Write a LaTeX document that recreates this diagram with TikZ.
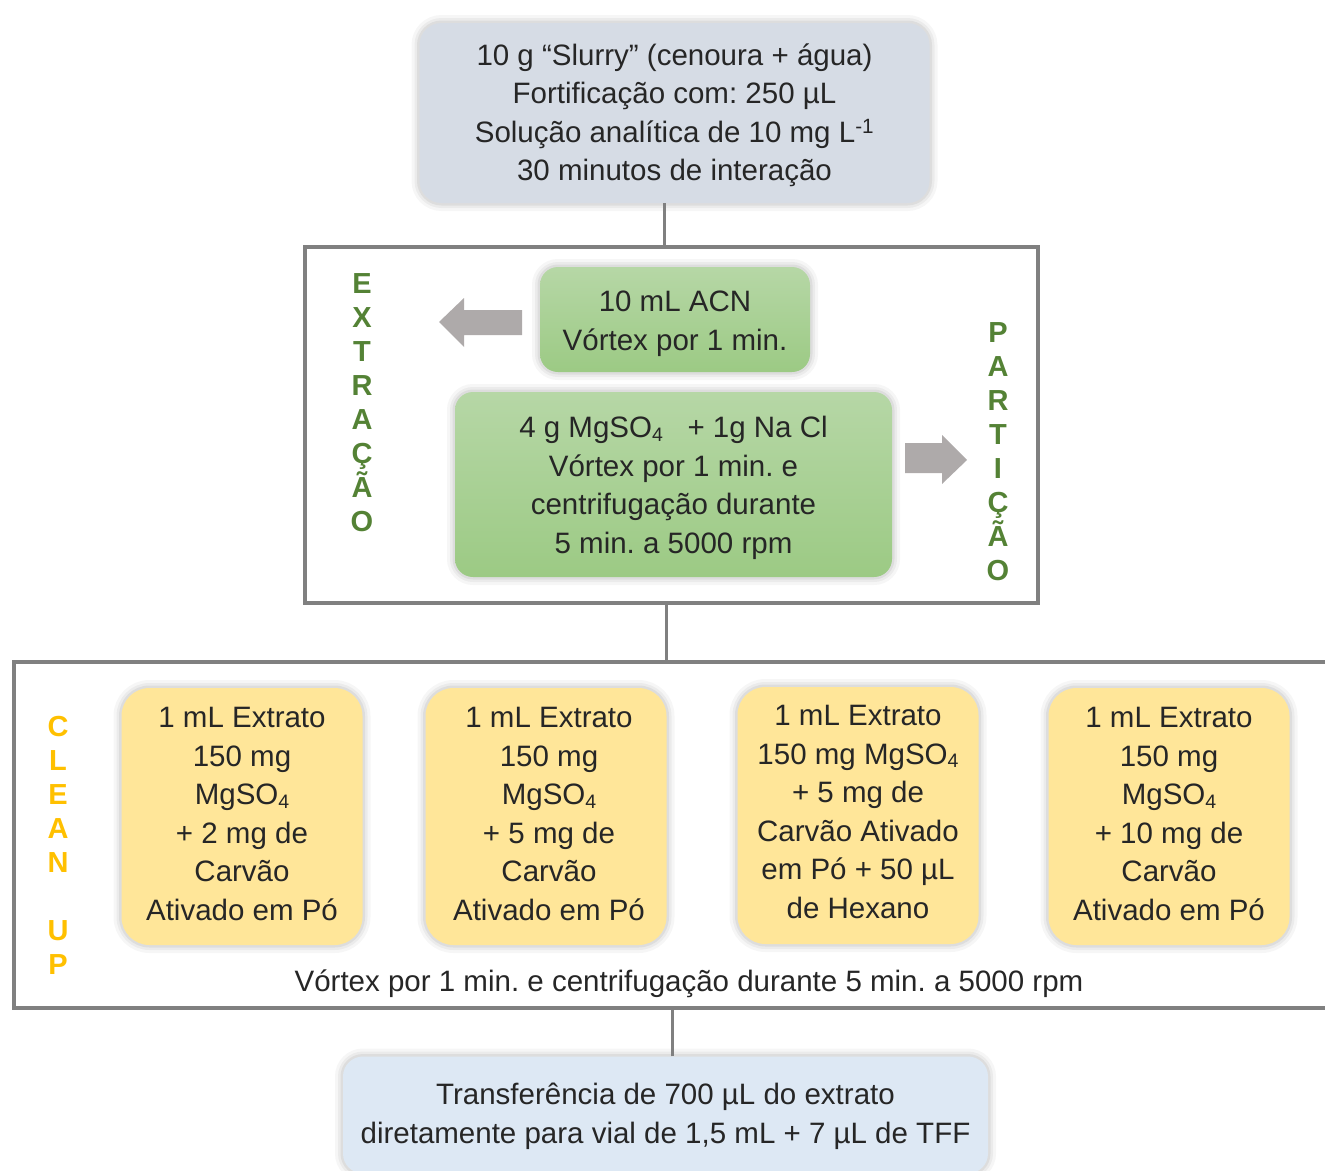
\documentclass[tikz,border=0pt]{standalone}
\usepackage{fontspec}
\setmainfont{Liberation Sans}
\frenchspacing
\definecolor{txt}{HTML}{262626}
\definecolor{framec}{HTML}{808080}
\definecolor{topfill}{HTML}{D6DCE5}
\definecolor{botfill}{HTML}{DDE8F4}
\definecolor{yel}{HTML}{FFE699}
\definecolor{gtop}{HTML}{B6D7A6}
\definecolor{gbot}{HTML}{9CCA84}
\definecolor{arr}{HTML}{AEAAAA}
\definecolor{lgreen}{HTML}{548235}
\definecolor{lorange}{HTML}{FFC000}
\newcommand{\mysubs}[1]{\raisebox{-0.12em}{\fontsize{19.5}{19.5}\selectfont #1}}
\begin{document}
\begin{tikzpicture}[x=1pt,y=-1pt,
  glow/.style={preaction={draw=black,draw opacity=0.035,line width=16pt},
               preaction={draw=black,draw opacity=0.045,line width=10pt},
               preaction={draw=black,draw opacity=0.06,line width=5pt}},
  box/.style={glow, rounded corners=22pt, inner sep=0pt},
  boxtext/.style={align=center, text=txt, font=\fontsize{29.5}{38.5}\selectfont, inner sep=0pt},
  gbox/.style={box, top color=gtop, bottom color=gbot, rounded corners=18pt},
  ybox/.style={box, fill=yel, rounded corners=28pt, minimum width=241pt, minimum height=257pt},
  framebox/.style={draw=framec, line width=4pt, inner sep=0pt},
  conn/.style={draw=framec, line width=3pt},
  letters/.style={align=center, font=\fontsize{29}{34}\selectfont\bfseries, inner sep=0pt},
  blockarrow/.style={fill=arr, draw=none}]
\useasboundingbox (0,0) rectangle (1325,1170);

% frames
\node[framebox, minimum width=733pt, minimum height=356pt] (ext) at (671.5,425) {};
\node[framebox, minimum width=1330pt, minimum height=346pt] (cl) at (679,835) {};

% top box
\node[box, fill=topfill, minimum width=510pt, minimum height=180pt] (top) at (674.5,113) {};
\node[boxtext] (toptext) at ([yshift=-2.5pt]top.center)
  {10 g “Slurry” (cenoura + água)\\Fortificação com: 250 µL\\Solução analítica de 10 mg L\textsuperscript{-1}\\30 minutos de interação};

% extraction
\node[gbox, minimum width=270pt, minimum height=105pt] (acn) at (675,319.5) {};
\node[boxtext] (acntext) at ([yshift=-4.5pt]acn.center) {10 mL ACN\\Vórtex por 1 min.};
\node[gbox, minimum width=437pt, minimum height=185pt] (mgso) at (673.5,484.5) {};
\node[boxtext] (mgsotext) at ([yshift=-3.5pt]mgso.center)
  {4 g MgSO\mysubs{4}\ \ \ + 1g Na Cl\\Vórtex por 1 min. e\\centrifugação durante\\5 min. a 5000 rpm};

\fill[blockarrow] (439,322) -- (464,298) -- (464,310) -- (522,310) -- (522,335) -- (464,335) -- (464,347) -- cycle;
\fill[blockarrow] (967,460) -- (942,435) -- (942,443) -- (905,443) -- (905,473) -- (942,473) -- (942,484) -- cycle;

\node[letters, text=lgreen] (lext) at (362,403) {E\\X\\T\\R\\A\\Ç\\Ã\\O};
\node[letters, text=lgreen] (lpart) at (998,451.5) {P\\A\\R\\T\\I\\Ç\\Ã\\O};

% clean up
\node[letters, text=lorange] (lclean) at (58,845) {C\\L\\E\\A\\N\\ \\U\\P};

\node[ybox] (y1) at (242,816.5) {};
\node[boxtext] (y1text) at ([yshift=2.5pt]y1.center)
  {1 mL Extrato\\150 mg\\MgSO\mysubs{4}\\+ 2 mg de\\Carvão\\Ativado em Pó};
\node[ybox] (y2) at (546,816.5) {};
\node[boxtext] (y2text) at ([xshift=3pt,yshift=2.5pt]y2.center)
  {1 mL Extrato\\150 mg\\MgSO\mysubs{4}\\+ 5 mg de\\Carvão\\Ativado em Pó};
\node[ybox] (y3) at (858,815.5) {};
\node[boxtext] (y3text) at ([yshift=3.5pt]y3.center)
  {1 mL Extrato\\150 mg MgSO\mysubs{4}\\+ 5 mg de\\Carvão Ativado\\em Pó + 50 µL\\de Hexano};
\node[ybox] (y4) at (1169,816.5) {};
\node[boxtext] (y4text) at ([yshift=2.5pt]y4.center)
  {1 mL Extrato\\150 mg\\MgSO\mysubs{4}\\+ 10 mg de\\Carvão\\Ativado em Pó};

\node[boxtext] (vort) at (689,984)
  {Vórtex por 1 min. e centrifugação durante 5 min. a 5000 rpm};

% bottom box
\node[box, fill=botfill, rounded corners=20pt, minimum width=645pt, minimum height=117pt] (bot) at (665.5,1115) {};
\node[boxtext] (bottext) at ([yshift=-1.5pt]bot.center)
  {Transferência de 700 µL do extrato\\diretamente para vial de 1,5 mL + 7 µL de TFF};

% connectors
\draw[conn] ([xshift=-10pt]top.south) -- ([xshift=-10pt]top.south |- ext.north);
\draw[conn] ([xshift=-5.5pt]ext.south) -- ([xshift=-5.5pt]ext.south |- cl.north);
\draw[conn] ([xshift=6.5pt]bot.north) -- ([xshift=6.5pt]bot.north |- cl.south);
\end{tikzpicture}
\end{document}
